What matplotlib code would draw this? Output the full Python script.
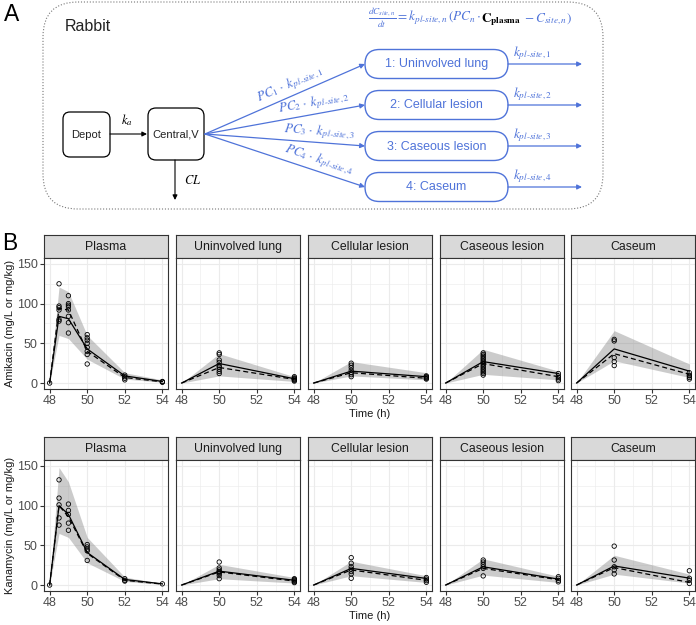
import numpy as np
import matplotlib
matplotlib.use("Agg")
import matplotlib.pyplot as plt
from matplotlib.patches import FancyBboxPatch

plt.rcParams['font.family'] = ['Liberation Sans', 'DejaVu Sans']
plt.rcParams['mathtext.fontset'] = 'stix'

W, H = 696, 625

# ---- panel B data ----
sites = ['Plasma', 'Uninvolved lung', 'Cellular lesion', 'Caseous lesion', 'Caseum']
drugs = ['Amikacin', 'Kanamycin']
plasma_t = [48, 48.5, 49, 50, 52, 54]
tissue_t = [48, 50, 54]

# observed concentrations per sampling time
amk_obs = {
    'Plasma': {48: [0], 48.5: [125, 97, 95, 92, 80, 78],
               49: [110, 100, 98, 96, 92, 84, 76, 63],
               50: [61, 57, 54, 50, 45, 40, 36, 24],
               52: [10, 8, 6, 4], 54: [2, 1.5, 1]},
    'Uninvolved lung': {50: [38, 36, 29, 26, 22, 20, 17.5, 14.6, 12],
                        54: [8, 6.5, 5.5, 4.5, 3.5, 2.5]},
    'Cellular lesion': {50: [25, 22.5, 19.5, 16, 13, 10.5, 8],
                        54: [9, 8, 7, 6, 5]},
    'Caseous lesion': {50: [38, 36, 34, 32, 30, 28, 26, 24, 22, 20, 18, 16, 14, 12, 10],
                       54: [12, 9, 7, 5, 3]},
    'Caseum': {50: [55, 53, 32, 27, 22], 54: [13, 10, 9, 7, 5]},
}
kan_obs = {
    'Plasma': {48: [0], 48.5: [132.5, 109.5, 101, 84.5, 75.5],
               49: [102, 94, 89, 78, 69],
               50: [51, 48, 45, 43, 31],
               52: [8, 6, 5], 54: [1.5]},
    'Uninvolved lung': {50: [29, 21.5, 19, 17, 16, 14.5, 12, 8],
                        54: [8, 7, 6, 5, 4, 3]},
    'Cellular lesion': {50: [34.5, 27.5, 23, 20, 17, 14, 8.5],
                        54: [9.5, 7.5, 5.5, 3.5]},
    'Caseous lesion': {50: [31.5, 29, 26, 23, 21, 11.5],
                       54: [10.5, 8.5, 6, 4]},
    'Caseum': {50: [49, 31.5, 23, 19, 14], 54: [18, 8.5, 6, 2]},
}

# model lines: solid, dashed, ribbon low / high
amk_solid = {'Plasma': [0, 84, 81, 43, 9, 2], 'Uninvolved lung': [0, 24.6, 5.4],
             'Cellular lesion': [0, 15, 8], 'Caseous lesion': [0, 27, 12], 'Caseum': [0, 43, 15]}
amk_dashed = {'Plasma': [0, 94, 92, 40, 7, 1.5], 'Uninvolved lung': [0, 19.6, 4.6],
              'Cellular lesion': [0, 13, 6], 'Caseous lesion': [0, 24.5, 8], 'Caseum': [0, 37, 11]}
amk_lo = {'Plasma': [0, 60, 56, 30, 5, 1], 'Uninvolved lung': [0, 9, 2],
          'Cellular lesion': [0, 9, 4], 'Caseous lesion': [0, 11, 4], 'Caseum': [0, 28, 7]}
amk_hi = {'Plasma': [0, 121, 115, 60, 13, 4], 'Uninvolved lung': [0, 37, 8],
          'Cellular lesion': [0, 27, 13], 'Caseous lesion': [0, 42.5, 15], 'Caseum': [0, 66, 24]}

kan_solid = {'Plasma': [0, 100, 89, 41, 7, 1.5], 'Uninvolved lung': [0, 17.5, 6],
             'Cellular lesion': [0, 21, 8.3], 'Caseous lesion': [0, 23, 7.5], 'Caseum': [0, 24, 8.7]}
kan_dashed = {'Plasma': [0, 100, 86, 40, 6, 1.2], 'Uninvolved lung': [0, 16.5, 5],
              'Cellular lesion': [0, 19, 6], 'Caseous lesion': [0, 21, 6.7], 'Caseum': [0, 22, 3.3]}
kan_lo = {'Plasma': [0, 65, 60, 28, 4.5, 0.8], 'Uninvolved lung': [0, 8, 2.5],
          'Cellular lesion': [0, 11.7, 3.3], 'Caseous lesion': [0, 12.5, 3.3], 'Caseum': [0, 13.7, 2.5]}
kan_hi = {'Plasma': [0, 148, 130, 60, 10, 2], 'Uninvolved lung': [0, 26, 9.5],
          'Cellular lesion': [0, 30, 11.7], 'Caseous lesion': [0, 33, 11], 'Caseum': [0, 37.5, 13.7]}

# ---- panel A text ----
comp_names = ['1: Uninvolved lung', '2: Cellular lesion', '3: Caseous lesion', '4: Caseum']
eq_parts = [r'$\frac{dC_{site,n}}{dt} = k_{pl\text{-}site,n}\,(PC_n\cdot\,$',
            r'$\mathbf{C}_{\mathbf{plasma}}$',
            r'$\,- C_{site,n})$']

blue = '#4f73d9'
grey20 = '#333333'

fig = plt.figure(figsize=(W / 100, H / 100), dpi=100)

# overlay axes in pixel coordinates, used for the diagram and shared labels
ov = fig.add_axes([0, 0, 1, 1])
ov.set_xlim(0, W)
ov.set_ylim(H, 0)
ov.axis('off')

ov.text(4, 21, 'A', fontsize=16.5, va='baseline')
ov.text(2, 250, 'B', fontsize=16.5, va='baseline')

ov.add_patch(FancyBboxPatch((43, 2), 560, 207, boxstyle='round,pad=0,rounding_size=35',
                            fc='none', ec='#777777', lw=0.8, ls=':'))
ov.text(65, 31, 'Rabbit', fontsize=11.5, va='baseline', color='#222222')

# depot / central
ov.add_patch(FancyBboxPatch((63, 112), 47, 45, boxstyle='round,pad=0,rounding_size=7',
                            fc='none', ec='black', lw=0.9))
ov.add_patch(FancyBboxPatch((148, 108), 56, 52, boxstyle='round,pad=0,rounding_size=8',
                            fc='none', ec='black', lw=0.9))
ov.text(86.5, 134.5, 'Depot', fontsize=8, ha='center', va='center', color='#222222')
ov.text(176, 134.5, 'Central,V', fontsize=8, ha='center', va='center', color='#222222')
arr_k = dict(arrowstyle='-|>', color='black', lw=0.8, mutation_scale=7, shrinkA=0, shrinkB=0)
ov.annotate('', xy=(147, 134), xytext=(110, 134), arrowprops=arr_k)
ov.text(127, 128, r'$k_a$', fontsize=9, ha='center', va='bottom')
ov.annotate('', xy=(175, 200), xytext=(175, 160), arrowprops=arr_k)
ov.text(184, 181, r'$CL$', fontsize=9, ha='left', va='center')

# equation, with the plasma term in black
renderer = fig.canvas.get_renderer()
ex = 368
for part, col in zip(eq_parts, [blue, 'black', blue]):
    txt = ov.text(ex, 22, part, fontsize=9.5, ha='left', va='baseline', color=col)
    ex += txt.get_window_extent(renderer).width

comp_y = [64, 105, 146, 187]
label_t = [0.56, 0.69, 0.71, 0.69]
arr_b = dict(arrowstyle='-|>', color=blue, lw=0.9, mutation_scale=7, shrinkA=0, shrinkB=0)
x0, y0, xb = 205, 134, 365
for i, cy in enumerate(comp_y):
    n = i + 1
    ov.add_patch(FancyBboxPatch((xb, cy - 14.5), 143, 29, boxstyle='round,pad=0,rounding_size=14.5',
                                fc='none', ec=blue, lw=1.0))
    ov.text(436.5, cy + 0.5, comp_names[i], fontsize=9, ha='center', va='center', color=blue)
    ov.annotate('', xy=(582, cy), xytext=(508, cy), arrowprops=arr_b)
    ov.text(513, cy - 2, r'$k_{pl\text{-}site,%d}$' % n, fontsize=9.5, ha='left', va='bottom', color=blue)
    ov.annotate('', xy=(xb, cy), xytext=(x0, y0), arrowprops=arr_b)
    dx, dy = xb - x0, cy - y0
    ang = -np.degrees(np.arctan2(dy, dx))
    t = label_t[i]
    lx, ly = x0 + t * dx, y0 + t * dy
    nx, ny = -dy / np.hypot(dx, dy), dx / np.hypot(dx, dy)
    ov.text(lx - 2 * nx, ly - 2 * ny, r'$PC_%d\cdot\ k_{pl\text{-}site,%d}$' % (n, n), fontsize=9.5,
            ha='center', va='bottom', rotation=ang, rotation_mode='anchor', color=blue)

# ---- panel B ----
col_x = [44, 176, 308, 440, 571]
pw = 124
rows = [(235, 258, 389), (437, 460, 591)]


def fig_rect(xa, ya, xc, yc):
    return [xa / W, 1 - yc / H, (xc - xa) / W, (yc - ya) / H]


all_obs = [amk_obs, kan_obs]
all_solid = [amk_solid, kan_solid]
all_dashed = [amk_dashed, kan_dashed]
all_lo = [amk_lo, kan_lo]
all_hi = [amk_hi, kan_hi]

for r, (st, pt, pb) in enumerate(rows):
    for c, site in enumerate(sites):
        x = col_x[c]
        sax = fig.add_axes(fig_rect(x, st, x + pw, pt))
        sax.set_facecolor('#d9d9d9')
        sax.set_xticks([])
        sax.set_yticks([])
        for s in sax.spines.values():
            s.set_color(grey20)
            s.set_linewidth(0.8)
        sax.text(0.5, 0.47, site, transform=sax.transAxes, ha='center', va='center',
                 fontsize=8.8, color='#1a1a1a')

        ax = fig.add_axes(fig_rect(x, pt, x + pw, pb))
        tt = plasma_t if site == 'Plasma' else tissue_t
        ax.fill_between(tt, all_lo[r][site], all_hi[r][site], color='#7f7f7f', alpha=0.4, lw=0, zorder=2)
        ax.plot(tt, all_solid[r][site], color='black', lw=0.9, zorder=3)
        ax.plot(tt, all_dashed[r][site], color='black', lw=0.9, ls=(0, (4, 2.5)), zorder=3)
        for tp, vals in all_obs[r][site].items():
            ax.scatter([tp] * len(vals), vals, s=10, facecolors='none', edgecolors='black',
                       linewidths=0.6, zorder=4)
        ax.set_xlim(47.7, 54.3)
        ax.set_ylim(-7.5, 157.5)
        ax.set_xticks([48, 50, 52, 54])
        ax.set_xticks([49, 51, 53], minor=True)
        ax.set_yticks([0, 50, 100, 150])
        ax.set_yticks([25, 75, 125], minor=True)
        ax.grid(which='major', color='#ebebeb', lw=0.8, zorder=0)
        ax.grid(which='minor', color='#ebebeb', lw=0.4, zorder=0)
        ax.set_axisbelow(True)
        ax.tick_params(which='minor', length=0)
        ax.tick_params(which='major', length=3, width=0.8, color=grey20, labelcolor='#4d4d4d',
                       labelsize=9, pad=1.5)
        if c > 0:
            ax.tick_params(axis='y', which='major', length=0, labelleft=False)
        for s in ax.spines.values():
            s.set_color(grey20)
            s.set_linewidth(0.8)

    ov.text(10, (pt + pb) / 2, '%s (mg/L or mg/kg)' % drugs[r], rotation=90, ha='center',
            va='center', fontsize=8, color='#1a1a1a')
    ov.text(370, pb + 25, 'Time (h)', ha='center', va='center', fontsize=8, color='#1a1a1a')

fig.savefig('out.png', dpi=100)
